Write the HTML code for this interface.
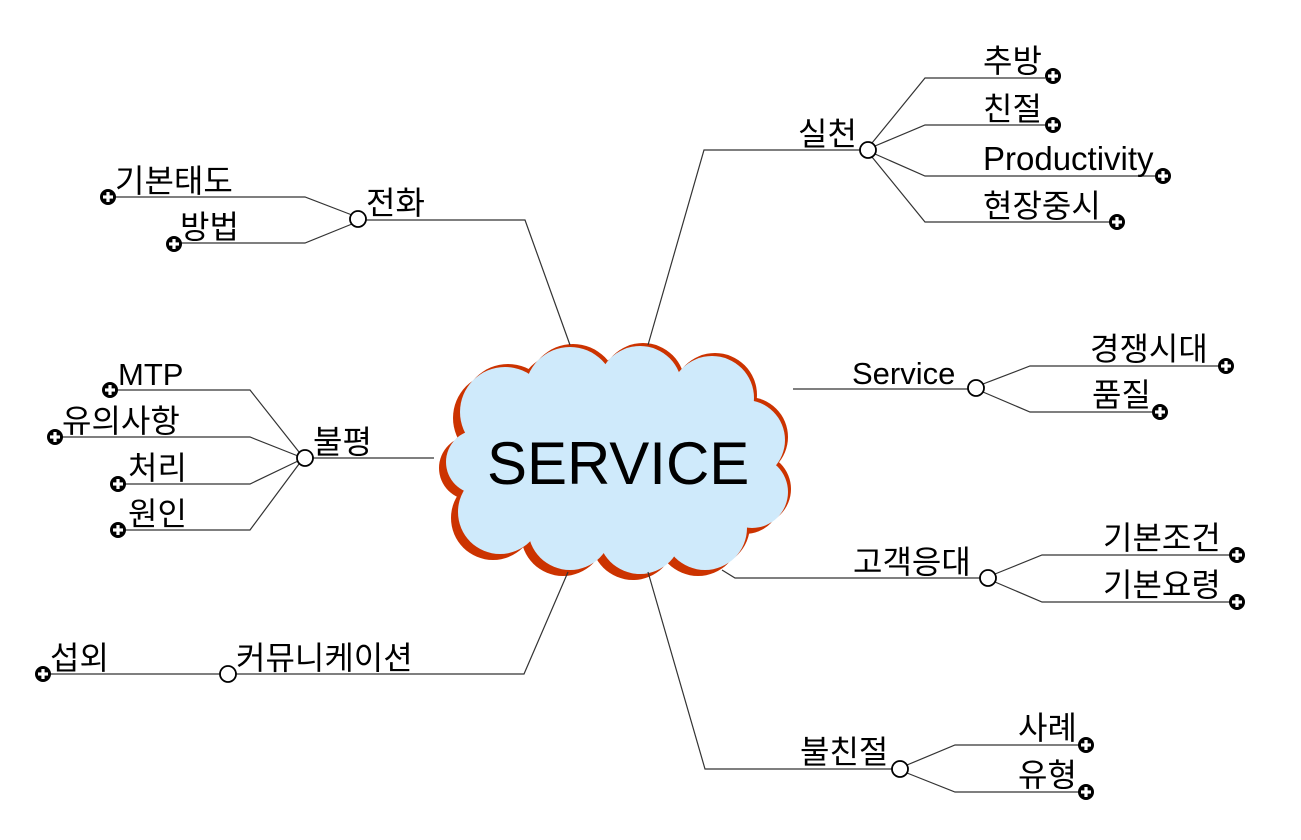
<!DOCTYPE html>
<html><head><meta charset="utf-8"><style>
html,body{margin:0;padding:0;background:#fff;}
svg text{font-family:"Liberation Sans","Noto Sans CJK KR",sans-serif;font-size:32px;fill:#000;}
</style></head><body>
<svg width="1301" height="835" viewBox="0 0 1301 835" xmlns="http://www.w3.org/2000/svg">
<defs>
<g id="p"><circle r="8" fill="#000"/><rect x="-5" y="-1.6" width="10" height="3.2" fill="#fff"/><rect x="-1.6" y="-5" width="3.2" height="10" fill="#fff"/></g>
<g id="cl">
<ellipse cx="615" cy="460" rx="150" ry="80"/>
<circle cx="505" cy="412" r="45"/><circle cx="570" cy="392" r="45"/><circle cx="640" cy="388" r="42"/><circle cx="712" cy="398" r="42"/>
<circle cx="745" cy="440" r="40"/><circle cx="752" cy="492" r="36"/><circle cx="705" cy="528" r="42"/><circle cx="640" cy="532" r="42"/>
<circle cx="570" cy="528" r="42"/><circle cx="500" cy="512" r="42"/><circle cx="478" cy="462" r="32"/>
</g>
</defs>
<g fill="#cc3300" transform="translate(-7,6)"><use href="#cl"/></g>
<g fill="#cc3300" transform="translate(3,-3)"><use href="#cl"/></g>
<g fill="#cfeafb"><use href="#cl"/></g>
<text x="487" y="484" style="font-size:60px">SERVICE</text>

<g stroke="#333" stroke-width="1.2" fill="none">
<polyline points="570,345 525,220 366,220"/>
<polyline points="352,215 305,197 115,197"/><polyline points="352,224 305,243 180,243"/>
<polyline points="648,345 704,150 860,150"/>
<polyline points="872,143 925,78 1045,78"/><polyline points="875,146 925,125 1045,125"/>
<polyline points="875,154 925,176 1155,176"/><polyline points="872,157 925,222 1110,222"/>
<polyline points="793,389 968,389"/>
<polyline points="983,384 1030,366 1220,366"/><polyline points="983,392 1030,412 1152,412"/>
<polyline points="434,458 313,458"/>
<polyline points="299,452 250,390 115,390"/><polyline points="298,456 250,437 60,437"/>
<polyline points="298,461 250,484 120,484"/><polyline points="299,464 250,530 120,530"/>
<polyline points="722,570 735,578 980,578"/>
<polyline points="995,574 1042,555 1230,555"/><polyline points="995,582 1042,602 1230,602"/>
<polyline points="568,572 524,674 236,674"/>
<polyline points="220,674 45,674"/>
<polyline points="648,572 705,769 892,769"/>
<polyline points="907,765 955,745 1080,745"/><polyline points="907,773 955,792 1080,792"/>
</g>

<g fill="#fff" stroke="#000" stroke-width="1.8">
<circle cx="358" cy="219" r="8"/><circle cx="868" cy="150" r="8"/><circle cx="976" cy="388" r="8"/>
<circle cx="305" cy="458" r="8"/><circle cx="988" cy="578" r="8"/><circle cx="228" cy="674" r="8"/><circle cx="900" cy="769" r="8"/>
</g>

<text x="366" y="214">전화</text>
<text x="115" y="192">기본태도</text><text x="180" y="238">방법</text>
<text x="798" y="145">실천</text>
<text x="983" y="72">추방</text><text x="983" y="120">친절</text><text x="983" y="170" style="font-size:33px">Productivity</text><text x="983" y="217">현장중시</text>
<text x="852" y="384" style="font-size:31px">Service</text>
<text x="1090" y="360">경쟁시대</text><text x="1092" y="406">품질</text>
<text x="313" y="453">불평</text>
<text x="118" y="385" style="font-size:31px">MTP</text><text x="62" y="432">유의사항</text><text x="128" y="479">처리</text><text x="128" y="525">원인</text>
<text x="853" y="573">고객응대</text>
<text x="1103" y="549">기본조건</text><text x="1103" y="596">기본요령</text>
<text x="236" y="669">커뮤니케이션</text><text x="50" y="669">섭외</text>
<text x="800" y="763">불친절</text>
<text x="1018" y="739">사례</text><text x="1018" y="786">유형</text>

<use href="#p" x="108" y="197"/><use href="#p" x="174" y="244"/>
<use href="#p" x="1053" y="76"/><use href="#p" x="1053" y="125"/><use href="#p" x="1163" y="176"/><use href="#p" x="1117" y="222"/>
<use href="#p" x="1226" y="366"/><use href="#p" x="1160" y="412"/>
<use href="#p" x="110" y="390"/><use href="#p" x="55" y="437"/><use href="#p" x="118" y="484"/><use href="#p" x="118" y="530"/>
<use href="#p" x="1237" y="555"/><use href="#p" x="1237" y="602"/>
<use href="#p" x="43" y="674"/>
<use href="#p" x="1086" y="745"/><use href="#p" x="1086" y="792"/>
</svg>
</body></html>
